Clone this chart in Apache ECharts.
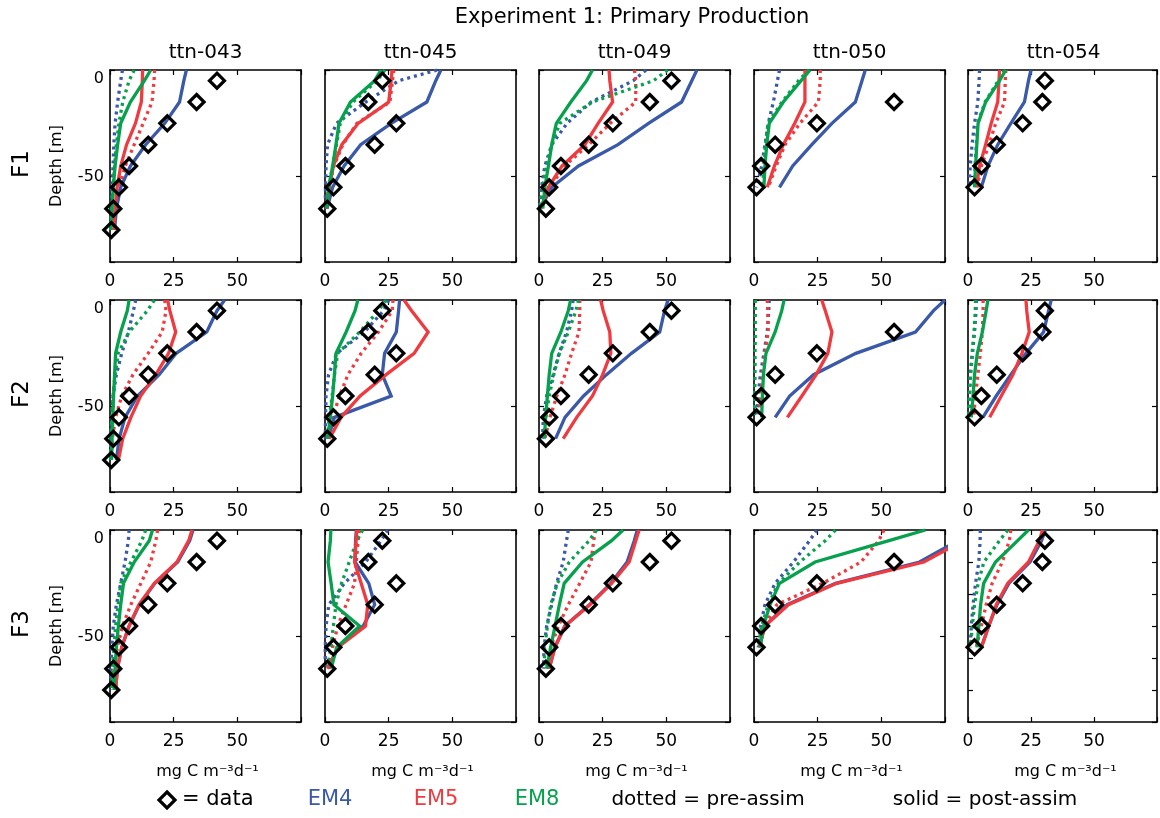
<!DOCTYPE html>
<html>
<head>
<meta charset="utf-8">
<title>Experiment 1: Primary Production</title>
<script src="https://cdn.jsdelivr.net/npm/echarts@6.0.0/dist/echarts.min.js"></script>
<style>
  html, body { margin: 0; padding: 0; background: #fff; }
  #chart { width: 1160px; height: 818px; }
</style>
</head>
<body>
<div id="chart"></div>
<script>
// ---- categories -------------------------------------------------------
const stations = ['ttn-043', 'ttn-045', 'ttn-049', 'ttn-050', 'ttn-054'];
const experiments = ['F1', 'F2', 'F3'];
const models = ['EM4', 'EM5', 'EM8'];

// ---- depths (m, positive downwards) ----------------------------------
const modelDepths = [0, 5, 15, 25, 35, 45, 55, 65, 75];
const obsDepths = [5, 15, 25, 35, 45, 55, 65, 75];

// ---- tick labels ------------------------------------------------------
const xTickValues = [0, 25, 50];
const xTickLabels = ['0', '25', '50'];
const yTickValues = [0, 50];
const yTickLabels = ['0', '-50'];

// ---- observed primary production (mg C m-3 d-1) at obsDepths ---------
const obs_ttn043 = [42, 34, 22.5, 15, 7.5, 3.5, 1.3, 0.5];
const obs_ttn045 = [22.5, 17, 28, 19.5, 8, 3.3, 0.9];
const obs_ttn049 = [52, 43.5, 29, 19.5, 8.6, 4, 2.7];
const obs_ttn050 = [null, 55, 24.7, 8.3, 2.8, 1];
const obs_ttn054 = [30.5, 29.5, 21.7, 11.4, 5.3, 2.6];

// ---- model profiles at modelDepths ------------------------------------
// row order: EM4 pre, EM4 post, EM5 pre, EM5 post, EM8 pre, EM8 post
const F1_ttn043 = [
  [4.9, 4.2, 3, 2, 1.5, 1.2, 0.8, 0.5, 0.2],
  [30, 29, 27.3, 21.5, 14, 8, 4.2, 2.5, 1.8],
  [17.5, 17.3, 16.5, 13, 9.5, 6, 3.5, 2, 1.2],
  [12.8, 12.7, 12.3, 10, 6.5, 4.2, 2.8, 2, 1.5],
  [9.5, 7.5, 5, 3.5, 2.5, 1.8, 1.2, 0.7, 0.3],
  [16, 13.5, 8, 4.2, 3, 2, 1.3, 0.8, 0.3]
];
const F1_ttn045 = [
  [44, 29, 16, 4.5, 1, 0.4, 0.2, 0.1],
  [45.5, 43.5, 40, 26, 14, 7.5, 3, 0.8],
  [27, 26.5, 25.5, 12.5, 7, 3.5, 1.5, 0.5],
  [26.3, 26, 25, 13, 6.6, 3.3, 1.7, 0.6],
  [23.5, 20.5, 11, 6, 4.5, 3, 1.5, 0.6],
  [22, 19.5, 10, 5.5, 4.3, 3, 1.5, 0.6]
];
const F1_ttn049 = [
  [42, 37, 20.5, 11, 5, 2.3, 1, 0.2],
  [62, 60, 56, 43, 31, 15.5, 5, 0.5],
  [37.5, 38, 38, 28, 19.5, 10, 4.3, 0.5],
  [27.5, 27.8, 28.9, 23.2, 18, 9, 3.7, 0.7],
  [50.5, 45, 21, 8.2, 5, 3, 1.4, 0.4],
  [21, 18.7, 12.5, 6.8, 5, 3.7, 2.3, 1.5]
];
const F1_ttn050 = [
  [10, 9.2, 7.6, 5.6, 4.3, 3, 1],
  [43.7, 42.4, 39.8, 30.6, 22.7, 15.2, 10],
  [26, 26, 25.3, 18, 12.2, 8.7, 5.6],
  [20, 20, 20, 16, 11.5, 8, 5.2],
  [21.5, 17.5, 11, 5.5, 4.5, 3.8, 3.5],
  [22, 18.5, 11.5, 6, 5, 4.3, 3.9]
];
const F1_ttn054 = [
  [4.6, 4.4, 3.9, 2.6, 1.6, 0.9, 0.4],
  [25, 24, 22.4, 17, 11.8, 7.9, 5.3],
  [15, 14.8, 14.5, 11, 8.3, 5.3, 3.6],
  [12.5, 12.3, 11.8, 9.2, 7, 4.6, 3.3],
  [14.5, 12, 6.8, 3.8, 3.3, 2.8, 2.5],
  [15, 12.5, 7, 4, 3.5, 3, 2.6]
];
const F2_ttn043 = [
  [10.1, 9.2, 7.2, 4.6, 2.5, 1.2, 0.7, 0.3, 0.2],
  [45, 42, 38, 26, 19.3, 10.8, 5.9, 3.6, 2.5],
  [21.5, 22, 20.5, 15, 9, 4.6, 2.2, 0.9, 0.4],
  [22.6, 23.5, 25.8, 23, 18, 12, 8.2, 5, 3.3],
  [17.4, 14.7, 7.5, 3.2, 2, 1.2, 0.7, 0.4, 0.3],
  [7.5, 6.8, 4.2, 2.2, 1.8, 1.4, 1.1, 0.8, 0.6]
];
const F2_ttn045 = [
  [25, 23, 15.5, 4.6, 1.4, 0.4, 0.2, 0.1],
  [29.3, 28.9, 28, 23.4, 22.5, 26, 3.7, 1.2],
  [26.7, 26.4, 21, 14.2, 9, 5.7, 3, 1],
  [31, 34, 40.5, 35, 24, 13.8, 6.3, 1.7],
  [24, 21, 13.6, 5, 3.7, 2.8, 1.7, 0.8],
  [12.9, 11.8, 8.3, 4.3, 3.7, 3, 2.1, 1]
];
const F2_ttn049 = [
  [13.4, 12.8, 10.8, 7.9, 5.6, 3, 1.7, 1.4],
  [50.7, 49.3, 47.4, 36.3, 26.5, 17.5, 10.2, 6.5],
  [16, 16, 15.7, 12.8, 10.2, 7, 4.3, 2.3],
  [24.2, 25.2, 27.8, 28.2, 25, 21, 14.8, 9.5],
  [15.5, 14.5, 11.5, 8, 5.8, 4, 2.7, 2],
  [12.4, 11.5, 8.6, 5, 4, 3.3, 2.6, 2.1]
];
const F2_ttn050 = [
  [6, 5.8, 5.2, 3.9, 2.5, 1.6, 1],
  [75, 70.5, 63.4, 40, 23.4, 14, 8.3],
  [5.2, 5.4, 5.6, 4.3, 3.4, 2.6, 2],
  [26.6, 28, 30.6, 29, 24.4, 18.8, 13.1],
  [0.5, 0.5, 0.5, 0.4, 0.4, 0.3, 0.3],
  [11.8, 10.9, 8.3, 4.7, 3.7, 3.3, 3]
];
const F2_ttn054 = [
  [3.3, 3.2, 2.6, 1.8, 1, 0.6, 0.4],
  [33, 32, 30, 23, 17, 11.2, 5.9],
  [6, 6, 5.7, 4.9, 3.9, 3, 2.2],
  [23, 23.3, 24.3, 21.4, 17.8, 13.2, 8.6],
  [3, 2.9, 2.4, 1.6, 0.9, 0.5, 0.3],
  [7.9, 7.2, 5.7, 3.7, 2.6, 2, 1.3]
];
const F3_ttn043 = [
  [7.5, 7.2, 5.9, 4.2, 2.5, 1.3, 0.7, 0.4, 0.3],
  [32.6, 31.3, 26.6, 17.6, 11.5, 7.5, 4.6, 2.9, 2.2],
  [18.7, 18, 16, 12.1, 8.2, 4.9, 2.9, 1.6, 0.9],
  [32.2, 30.9, 26.3, 17.4, 11.4, 7.5, 4.6, 2.9, 2.2],
  [14, 12.5, 8.2, 4.2, 3.2, 2.2, 1.6, 0.9, 0.7],
  [16.7, 15.4, 9.5, 5.3, 4.2, 3.3, 2.5, 2, 1.6]
];
const F3_ttn045 = [
  [24.7, 22, 16, 7.6, 1.5, 0.4, 0.1, 0.1],
  [12.3, 12, 11.8, 17.2, 19.5, 15, 5, 1.5],
  [13.5, 13, 12.3, 11.6, 8.3, 5, 3, 1.5],
  [12.5, 12.2, 11.6, 14.2, 16.8, 15.9, 5, 1],
  [14.8, 12.5, 9.5, 6.5, 4.3, 3.3, 2.3, 1],
  [2.3, 2.1, 1.2, 2.4, 3.5, 13.6, 4.6, 2.4]
];
const F3_ttn049 = [
  [11.5, 10.8, 9.5, 6.9, 5, 3, 2, 1.7],
  [38.6, 37.4, 34.6, 28.2, 19.8, 10.1, 6.2, 4],
  [22, 21.5, 20.4, 16, 11.5, 7.6, 4.6, 3],
  [39.3, 38, 35.4, 28.5, 20, 10.2, 6.3, 4],
  [22.6, 19.7, 11.9, 7.2, 4.6, 3.3, 2.3, 2],
  [33, 28.5, 17.1, 9.9, 8, 6.3, 4.6, 3]
];
const F3_ttn050 = [
  [24.7, 21.8, 15.5, 8.3, 4.3, 2.6, 1.7],
  [86, 80, 65, 32, 13, 4.2, 2],
  [51, 49, 42, 27, 9, 4, 2.4],
  [88, 82, 66.7, 32.5, 13.5, 4.3, 2.1],
  [32, 28, 18, 9.6, 5.6, 3, 1.7],
  [67.3, 53, 24, 10, 6.3, 3.7, 2.4]
];
const F3_ttn054 = [
  [4.9, 4.8, 4.3, 3, 2, 1.3, 0.9],
  [30.7, 29.2, 24.6, 16.2, 11.5, 8.2, 5.3],
  [17, 16.4, 13.6, 9.6, 7.2, 5.3, 3.3],
  [29.6, 28.3, 24, 15.8, 11.2, 8.3, 5.3],
  [15.8, 12.5, 6.3, 4, 2.6, 1.7, 1],
  [24, 19.7, 10.9, 6.2, 5, 4.3, 3.6]
];

// lookup tables built from the arrays above
const observations = [obs_ttn043, obs_ttn045, obs_ttn049, obs_ttn050, obs_ttn054];
const profiles = [
  [F1_ttn043, F1_ttn045, F1_ttn049, F1_ttn050, F1_ttn054],
  [F2_ttn043, F2_ttn045, F2_ttn049, F2_ttn050, F2_ttn054],
  [F3_ttn043, F3_ttn045, F3_ttn049, F3_ttn050, F3_ttn054]
];

// ---- styling / layout --------------------------------------------------
const FONT = '"DejaVu Sans", "Liberation Sans", sans-serif';
const INK = '#000';
const modelColors = { EM4: '#3a59a8', EM5: '#ef3a3f', EM8: '#07a14e' };
const colLeft = [110, 325, 539, 754, 968];
const rowTop = [70, 300, 530];
const PW = 191, PH = 192;

const grids = [], xAxes = [], yAxes = [], series = [];

function xAxisCfg(g, pos, showLabels) {
  return {
    gridIndex: g, type: 'value', position: pos, min: 0, max: 75, interval: 25,
    axisLine: { show: true, onZero: false, lineStyle: { color: INK, width: 1.6 } },
    axisTick: { show: true, inside: true, length: 5, lineStyle: { color: INK, width: 1.2 } },
    axisLabel: {
      show: showLabels, margin: 11, color: INK, fontFamily: FONT, fontSize: 17,
      formatter: v => { const i = xTickValues.indexOf(v); return i >= 0 ? xTickLabels[i] : ''; }
    },
    splitLine: { show: false }, silent: true
  };
}

function yAxisCfg(g, pos, showLabels, interval) {
  return {
    gridIndex: g, type: 'value', position: pos, inverse: true, min: 0, max: 90, interval: interval,
    axisLine: { show: true, onZero: false, lineStyle: { color: INK, width: 1.6 } },
    axisTick: { show: true, inside: true, length: 5, lineStyle: { color: INK, width: 1.2 } },
    axisLabel: {
      show: showLabels, margin: 6, color: INK, fontFamily: FONT, fontSize: 16,
      formatter: v => {
        const i = yTickValues.indexOf(v);
        if (i < 0) return '';
        return v === 0 ? '{top|' + yTickLabels[i] + '}' : yTickLabels[i];
      },
      rich: { top: { padding: [18, 0, 0, 0], fontFamily: FONT, fontSize: 16, color: INK } }
    },
    splitLine: { show: false }, silent: true
  };
}

experiments.forEach((exp, r) => {
  stations.forEach((st, c) => {
    const g = r * 5 + c;
    grids.push({ left: colLeft[c], top: rowTop[r], width: PW, height: PH, containLabel: false });
    xAxes.push(xAxisCfg(g, 'bottom', true));
    xAxes.push(xAxisCfg(g, 'top', false));
    // the last F3 panel carries 15 m depth ticks
    const yInt = (r === 2 && c === 4) ? 15 : 50;
    yAxes.push(yAxisCfg(g, 'left', c === 0, yInt));
    yAxes.push(yAxisCfg(g, 'right', false, yInt));

    const set = profiles[r][c];
    // dotted (pre-assimilation) first, then solid (post-assimilation)
    [0, 1].forEach(phase => {
      models.forEach((m, k) => {
        const vals = set[k * 2 + phase];
        series.push({
          type: 'line', xAxisIndex: 2 * g, yAxisIndex: 2 * g,
          name: exp + ' ' + st + ' ' + m + (phase ? ' post' : ' pre'),
          data: vals.map((v, i) => [v, modelDepths[i]]),
          showSymbol: false, symbol: 'none', clip: true, silent: true, animation: false,
          lineStyle: {
            color: modelColors[m], width: 3.3, opacity: 1,
            type: phase ? 'solid' : [3, 4], cap: 'butt', join: 'miter'
          },
          z: 2
        });
      });
    });

    const obs = observations[c];
    series.push({
      type: 'scatter', xAxisIndex: 2 * g, yAxisIndex: 2 * g,
      name: exp + ' ' + st + ' data',
      data: obs.map((v, i) => v == null ? null : [v, obsDepths[i]]).filter(p => p),
      symbol: 'diamond', symbolSize: [15, 15], clip: false, silent: true, animation: false,
      itemStyle: { color: 'rgba(0,0,0,0)', borderColor: '#000', borderWidth: 3.2, opacity: 1 },
      z: 5
    });
  });
});

// ---- titles, labels, key ------------------------------------------------
function txt(text, x, y, size, opts) {
  opts = opts || {};
  return {
    type: 'text', x: x, y: y, rotation: opts.rotation || 0, silent: true, z: 10,
    style: {
      text: text, x: 0, y: 0, fill: opts.fill || INK,
      fontFamily: FONT, fontSize: size,
      align: opts.align || 'center', verticalAlign: 'middle'
    }
  };
}

const graphics = [];
graphics.push(txt('Experiment 1: Primary Production', 632, 18, 21));
stations.forEach((st, c) => graphics.push(txt(st, colLeft[c] + PW / 2, 53, 20)));
experiments.forEach((exp, r) => {
  graphics.push(txt(exp, 22, rowTop[r] + PH / 2 - 2, 23, { rotation: Math.PI / 2 }));
  graphics.push(txt('Depth [m]', 57, rowTop[r] + PH / 2, 16, { rotation: Math.PI / 2 }));
});
stations.forEach((st, c) => graphics.push(txt('mg C m\u207B\u00B3d\u207B\u00B9', colLeft[c] + PW / 2 + 2, 772, 16)));

// key row
graphics.push({
  type: 'polygon', silent: true, z: 10,
  shape: { points: [[167, 792], [175, 800], [167, 808], [159, 800]] },
  style: { fill: 'none', stroke: '#000', lineWidth: 3.2 }
});
graphics.push(txt('= data', 182, 800, 21, { align: 'left' }));
graphics.push(txt('EM4', 330, 800, 21, { fill: modelColors.EM4 }));
graphics.push(txt('EM5', 436, 800, 21, { fill: modelColors.EM5 }));
graphics.push(txt('EM8', 537, 800, 21, { fill: modelColors.EM8 }));
graphics.push(txt('dotted = pre-assim', 708, 800, 20));
graphics.push(txt('solid = post-assim', 985, 800, 20));

const chart = echarts.init(document.getElementById('chart'), null, { renderer: 'canvas' });
chart.setOption({
  animation: false,
  backgroundColor: '#fff',
  grid: grids,
  xAxis: xAxes,
  yAxis: yAxes,
  series: series,
  graphic: graphics
});
</script>
</body>
</html>
